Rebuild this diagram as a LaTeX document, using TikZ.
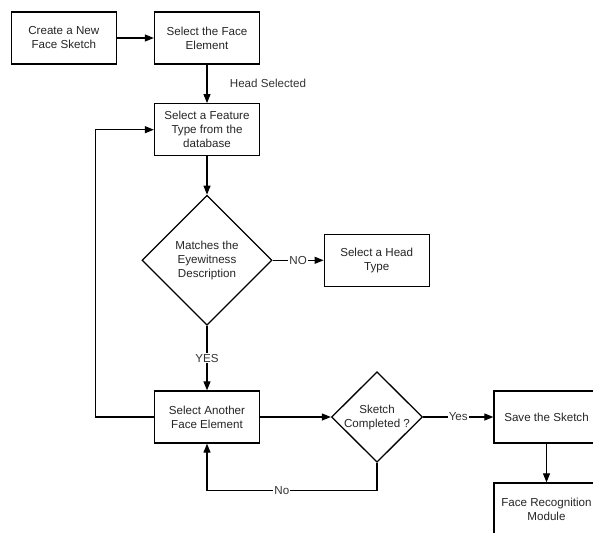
\documentclass[tikz,border=0pt]{standalone}
\usepackage{fontspec}
\setmainfont{Liberation Sans}
\usetikzlibrary{shapes.geometric,arrows.meta}

\begin{document}
\begin{tikzpicture}[x=1pt,y=-1pt,
		font=\fontsize{11.6}{14}\selectfont,
		>={Triangle[length=9pt,width=7pt]},
		stepbox/.style={draw,line width=1.3pt,fill=white,align=center,minimum width=105pt,minimum height=52pt,inner sep=1pt,text=black!85},
		choice/.style={draw,diamond,line width=1.3pt,fill=white,align=center,inner sep=0pt,text=black!85},
		flow/.style={line width=1.1pt,->},
		tag/.style={fill=white,inner sep=1pt,text=black!80}]
			\useasboundingbox (0,0) rectangle (593,532);
			\clip (0,0) rectangle (593,532);
			% boxes and decisions
			\node [stepbox] (new) at (63.8,38) {Create a New\\Face Sketch};
			\node [stepbox] (elem) at (207,38) {Select the Face\\Element};
			\node [stepbox] (feat) at (207,129.7) {Select a Feature\\Type from the\\database};
			\node [choice,minimum width=130pt,minimum height=130pt] (match) at (207,260.3) {Matches the\\Eyewitness\\Description};
			\node [stepbox] (head) at (376.7,260.3) {Select a Head\\Type};
			\node [stepbox] (another) at (207,417) {Select Another\\Face Element};
			\node [choice,minimum width=91pt,minimum height=90pt] (done) at (377,417) {Sketch\\Completed ?};
			\node [stepbox] (save) at (546.5,417) {Save the Sketch};
			\node [stepbox] (recog) at (546.5,509) {Face Recognition\\Module};
			% connectors
			\draw [flow] (new) -- (elem);
			\draw [flow] (elem) -- node[anchor=west,xshift=19pt,text=black!80]{Head Selected} (feat);
			\draw [flow] (feat) -- (match);
			\draw [flow] (match) -- node[tag]{NO} (head);
			\draw [flow] (match) -- node[tag]{YES} (another);
			\draw [flow] (another) -- (done);
			\draw [flow] (done) -- node[tag]{Yes} (save);
			\draw [flow] (save) -- (recog);
			\draw [flow] (another.west) -- ++(-58,0) |- (feat.west);
			\draw [flow] (done.south) -- ++(0,28) coordinate (back) -- node[tag,pos=0.56]{No} (back -| another.south) -- (another.south);
		\end{tikzpicture}
\end{document}
